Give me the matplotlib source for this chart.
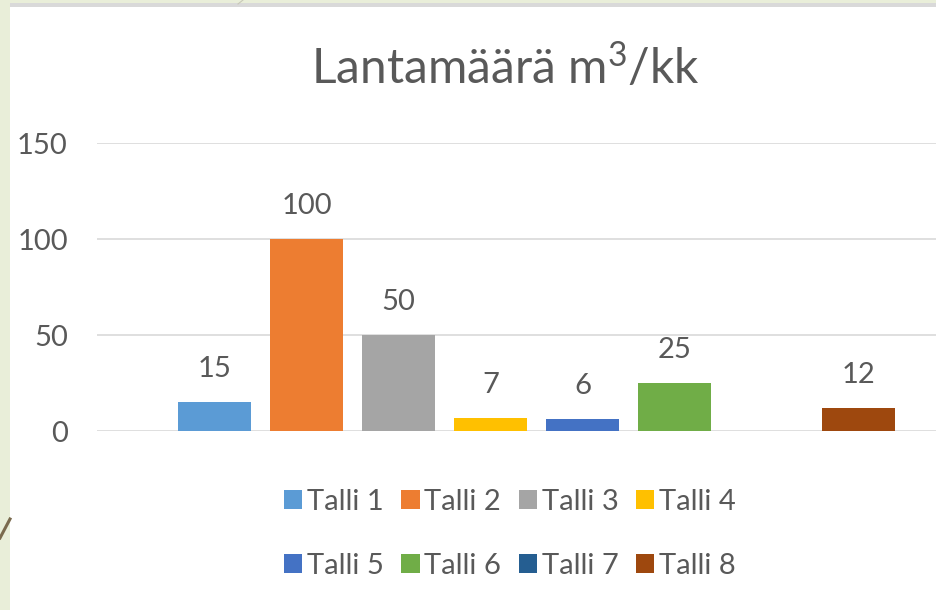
import numpy as np
import matplotlib
matplotlib.use("Agg")
import matplotlib.pyplot as plt
from matplotlib.patches import Rectangle
from matplotlib.lines import Line2D

plt.rcParams['font.family'] = ['Lato', 'DejaVu Sans']
plt.rcParams['mathtext.fontset'] = 'custom'
plt.rcParams['mathtext.rm'] = 'Lato'
plt.rcParams['mathtext.it'] = 'Lato'

title = r"Lantamäärä m$^{\mathrm{3}}$/kk"
series = ["Talli 1", "Talli 2", "Talli 3", "Talli 4", "Talli 5", "Talli 6", "Talli 7", "Talli 8"]
values = [15, 100, 50, 7, 6, 25, np.nan, 12]
colors = ["#5B9BD5", "#ED7D31", "#A5A5A5", "#FFC000", "#4472C4", "#70AD47", "#255E91", "#9E480E"]
yticks = [0, 50, 100, 150]

W, H = 936, 610
fig = plt.figure(figsize=(W / 100, H / 100), dpi=100)
fig.patch.set_facecolor("#E9EED9")

# white chart area and top border
fig.add_artist(Rectangle((10 / W, 0), 1 - 10 / W, 1 - 6 / H, transform=fig.transFigure,
                         facecolor="white", edgecolor="none", zorder=0))
fig.add_artist(Rectangle((10 / W, 1 - 6.5 / H), 1 - 10 / W, 3 / H, transform=fig.transFigure,
                         facecolor="#D9D9D9", edgecolor="none", zorder=0))
fig.add_artist(Line2D([0, 10 / W], [1 - 538 / H, 1 - 519 / H], transform=fig.transFigure,
                      color="#7A6A4E", lw=2.2, zorder=1))
fig.add_artist(Line2D([238 / W, 243 / W], [1 - 4 / H, 1 - 0 / H], transform=fig.transFigure,
                      color="#C8C8B8", lw=0.8, zorder=1))

text_color = "#595959"
ax = fig.add_axes([97 / W, (H - 431) / H, 879 / W, 288 / H])
ax.set_facecolor("none")
x = np.arange(len(series))
bw = 73 / 92
ax.bar(x, np.nan_to_num(values), width=bw, color=colors, zorder=3)
for xi, v in zip(x, values):
    if not np.isnan(v):
        ax.annotate(f"{v:g}", (xi, v), xytext=(0, 18), textcoords="offset points",
                    ha="center", va="baseline", fontsize=21, color=text_color)

ax.set_xlim(-1.277, 8.277)
ax.set_ylim(0, 150)
ax.set_yticks(yticks)
ax.set_yticklabels([str(t) for t in yticks], fontsize=21, color=text_color)
ax.tick_params(axis="y", length=0, pad=21)
ax.set_xticks([])
ax.grid(axis="y", color="#D9D9D9", lw=1.2, zorder=0)
for s in ax.spines.values():
    s.set_visible(False)

fig.text(505 / W, 1 - 83 / H, title, ha="center", va="baseline", fontsize=34.5, color=text_color)

# legend filled row by row (4 columns, 2 rows)
order = [0, 4, 1, 5, 2, 6, 3, 7]
handles = [Rectangle((0, 0), 1, 1, facecolor=colors[i], edgecolor="none") for i in order]
labels = [series[i] for i in order]
fig.legend(handles, labels, loc="center", bbox_to_anchor=(510 / W, 1 - 534 / H), ncol=4,
           frameon=False, fontsize=21, labelcolor=text_color, handlelength=0.62, handleheight=0.62,
           handletextpad=0.17, columnspacing=0.6, labelspacing=1.3)

fig.savefig("out.png", dpi=100, facecolor=fig.get_facecolor())
